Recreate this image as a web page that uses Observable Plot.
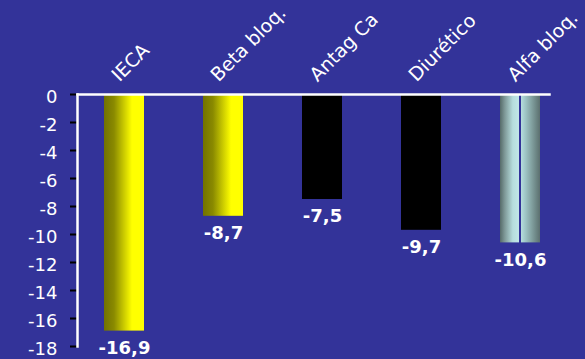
<!DOCTYPE html>
<html><head><meta charset="utf-8">
<script src="https://cdn.jsdelivr.net/npm/d3@7"></script>
<script src="https://cdn.jsdelivr.net/npm/@observablehq/plot@0.6"></script>
<style>html,body{margin:0;padding:0;background:#333399;overflow:hidden}</style>
</head><body><div id="chart"></div>
<script>
const categories = ["IECA", "Beta bloq.", "Antag Ca", "Diurético", "Alfa bloq."];
const values = [-16.9, -8.7, -7.5, -9.7, -10.6];
const yTicks = [0, -2, -4, -6, -8, -10, -12, -14, -16, -18];
const fills = ["url(#gradYellow)", "url(#gradYellow)", "#000000", "#000000", "url(#gradAlfa)"];
const data = categories.map((c, i) => ({category: c, value: values[i], fill: fills[i]}));

const chart = Plot.plot({
  width: 585, height: 359,
  marginTop: 94, marginBottom: 13, marginLeft: 77, marginRight: 36,
  style: {background: "#333399", fontFamily: "'DejaVu Sans', Verdana, sans-serif", color: "white", overflow: "visible"},
  x: {domain: categories, paddingInner: 0.6, paddingOuter: 0.16, align: 0.75, axis: null},
  y: {domain: [-18, 0], axis: null},
  color: {type: "identity"},
  marks: [
    Plot.barY(data, {x: "category", y: "value", fill: "fill"}),
    Plot.axisY({ticks: yTicks, label: null, tickSize: 7, stroke: "black", strokeWidth: 2, fill: "none"}),
    Plot.axisY({ticks: yTicks, label: null, tickFormat: d => String(d), tickSize: 7, tickPadding: 13, stroke: "none", fill: "white", fontSize: 18, dy: 3}),
    Plot.frame({anchor: "left", stroke: "white", strokeWidth: 2.5}),
    Plot.frame({anchor: "top", stroke: "white", strokeWidth: 2.5}),
    Plot.text(data, {x: "category", y: "value", text: d => String(d.value).replace(".", ","), lineAnchor: "top", dy: 10, fill: "white", fontWeight: "bold", fontSize: 18}),
    Plot.text(data, {x: "category", y: () => 0, text: "category", rotate: -45, textAnchor: "start", lineAnchor: "bottom", dx: -5, dy: -12, fill: "white", fontSize: 19})
  ]
});

d3.select(chart).insert("defs", ":first-child").html(`
  <linearGradient id="gradYellow" x1="0" x2="1" y1="0" y2="0">
    <stop offset="0%" stop-color="#727200"/>
    <stop offset="25%" stop-color="#8a8a00"/>
    <stop offset="70%" stop-color="#ffff00"/>
    <stop offset="100%" stop-color="#ffff00"/>
  </linearGradient>
  <linearGradient id="gradAlfa" x1="0" x2="1" y1="0" y2="0">
    <stop offset="0%" stop-color="#566a69"/>
    <stop offset="12%" stop-color="#7f9998"/>
    <stop offset="32%" stop-color="#b6dddd"/>
    <stop offset="48.5%" stop-color="#c2e8e8"/>
    <stop offset="48.6%" stop-color="#333399"/>
    <stop offset="51.4%" stop-color="#333399"/>
    <stop offset="51.5%" stop-color="#b8e0e0"/>
    <stop offset="62%" stop-color="#a2c9c9"/>
    <stop offset="100%" stop-color="#5b6f6e"/>
  </linearGradient>`);

document.getElementById("chart").appendChild(chart);
</script>
</body></html>
